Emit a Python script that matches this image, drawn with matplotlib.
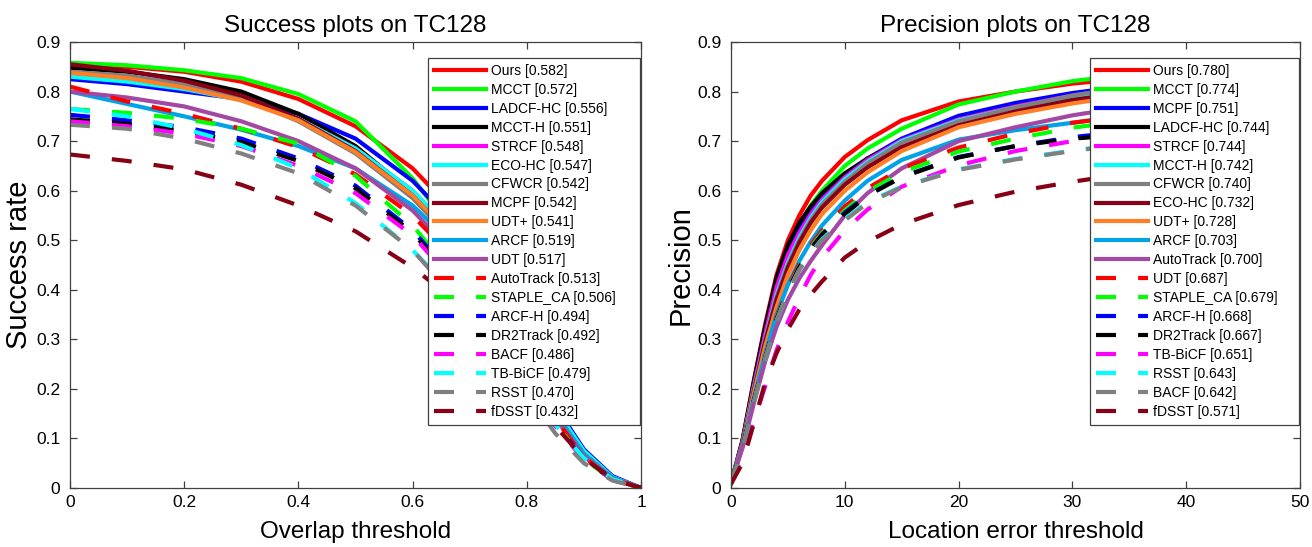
import numpy as np
from matplotlib import pyplot as plt

# ---------------- data ----------------
# success plot: overlap threshold -> success rate
overlap_thr = [0, 0.1, 0.2, 0.3, 0.4, 0.5, 0.6, 0.65, 0.7, 0.75, 0.8, 0.85, 0.9, 0.95, 1.0]

s_ours      = [0.855, 0.850, 0.840, 0.820, 0.785, 0.730, 0.645, 0.585, 0.500, 0.400, 0.280, 0.165, 0.075, 0.022, 0.0]
s_mcct      = [0.858, 0.853, 0.843, 0.827, 0.795, 0.740, 0.625, 0.550, 0.460, 0.360, 0.250, 0.150, 0.068, 0.020, 0.0]
s_ladcf_hc  = [0.825, 0.815, 0.800, 0.785, 0.755, 0.705, 0.620, 0.560, 0.480, 0.380, 0.270, 0.165, 0.078, 0.024, 0.0]
s_mcct_h    = [0.848, 0.840, 0.825, 0.800, 0.755, 0.690, 0.595, 0.530, 0.445, 0.350, 0.245, 0.145, 0.068, 0.020, 0.0]
s_strcf     = [0.835, 0.825, 0.810, 0.785, 0.745, 0.685, 0.600, 0.540, 0.460, 0.365, 0.260, 0.155, 0.070, 0.020, 0.0]
s_eco_hc    = [0.830, 0.820, 0.805, 0.783, 0.745, 0.685, 0.600, 0.540, 0.460, 0.365, 0.260, 0.160, 0.075, 0.022, 0.0]
s_cfwcr     = [0.840, 0.832, 0.815, 0.788, 0.740, 0.675, 0.585, 0.525, 0.450, 0.355, 0.250, 0.150, 0.068, 0.020, 0.0]
s_mcpf      = [0.855, 0.842, 0.822, 0.792, 0.745, 0.680, 0.590, 0.530, 0.450, 0.355, 0.250, 0.150, 0.068, 0.020, 0.0]
s_udt_plus  = [0.838, 0.827, 0.808, 0.782, 0.742, 0.678, 0.590, 0.530, 0.450, 0.355, 0.250, 0.150, 0.068, 0.020, 0.0]
s_arcf      = [0.800, 0.775, 0.750, 0.723, 0.690, 0.645, 0.570, 0.515, 0.440, 0.350, 0.250, 0.150, 0.068, 0.020, 0.0]
s_udt       = [0.800, 0.788, 0.770, 0.740, 0.700, 0.645, 0.560, 0.500, 0.425, 0.335, 0.235, 0.140, 0.064, 0.018, 0.0]
s_autotrack = [0.810, 0.780, 0.755, 0.725, 0.688, 0.633, 0.550, 0.490, 0.415, 0.330, 0.235, 0.140, 0.062, 0.018, 0.0]
s_staple_ca = [0.765, 0.757, 0.745, 0.725, 0.695, 0.630, 0.530, 0.460, 0.385, 0.300, 0.215, 0.130, 0.058, 0.017, 0.0]
s_arcf_h    = [0.753, 0.742, 0.728, 0.705, 0.665, 0.610, 0.520, 0.455, 0.380, 0.300, 0.215, 0.130, 0.060, 0.018, 0.0]
s_dr2track  = [0.744, 0.735, 0.720, 0.698, 0.660, 0.605, 0.515, 0.450, 0.375, 0.295, 0.210, 0.128, 0.058, 0.017, 0.0]
s_bacf      = [0.740, 0.730, 0.715, 0.690, 0.650, 0.595, 0.510, 0.445, 0.370, 0.290, 0.207, 0.125, 0.057, 0.016, 0.0]
s_tb_bicf   = [0.765, 0.750, 0.725, 0.692, 0.645, 0.575, 0.480, 0.420, 0.355, 0.285, 0.205, 0.128, 0.060, 0.018, 0.0]
s_rsst      = [0.733, 0.725, 0.705, 0.675, 0.635, 0.570, 0.480, 0.415, 0.345, 0.270, 0.190, 0.110, 0.050, 0.015, 0.0]
s_fdsst     = [0.673, 0.660, 0.643, 0.612, 0.570, 0.518, 0.445, 0.400, 0.350, 0.290, 0.215, 0.125, 0.060, 0.018, 0.0]

succ_labels = ['Ours [0.582]', 'MCCT [0.572]', 'LADCF-HC [0.556]', 'MCCT-H [0.551]',
               'STRCF [0.548]', 'ECO-HC [0.547]', 'CFWCR [0.542]', 'MCPF [0.542]',
               'UDT+ [0.541]', 'ARCF [0.519]', 'UDT [0.517]', 'AutoTrack [0.513]',
               'STAPLE_CA [0.506]', 'ARCF-H [0.494]', 'DR2Track [0.492]', 'BACF [0.486]',
               'TB-BiCF [0.479]', 'RSST [0.470]', 'fDSST [0.432]']

# precision plot: location error threshold -> precision
error_thr = [0, 1, 2, 3, 4, 5, 6, 7, 8, 10, 12, 15, 20, 25, 30, 35, 40, 45, 50]

p_ours      = [0.010, 0.095, 0.215, 0.330, 0.430, 0.500, 0.550, 0.590, 0.620, 0.668, 0.702, 0.742, 0.780, 0.800, 0.816, 0.827, 0.836, 0.843, 0.849]
p_mcct      = [0.010, 0.090, 0.205, 0.315, 0.410, 0.480, 0.530, 0.570, 0.600, 0.650, 0.685, 0.725, 0.774, 0.800, 0.821, 0.835, 0.845, 0.852, 0.858]
p_mcpf      = [0.010, 0.090, 0.200, 0.305, 0.400, 0.470, 0.520, 0.555, 0.585, 0.630, 0.665, 0.705, 0.751, 0.777, 0.797, 0.812, 0.822, 0.830, 0.836]
p_ladcf_hc  = [0.010, 0.095, 0.215, 0.325, 0.425, 0.490, 0.535, 0.568, 0.595, 0.635, 0.665, 0.700, 0.744, 0.770, 0.790, 0.805, 0.816, 0.824, 0.830]
p_strcf     = [0.010, 0.090, 0.205, 0.310, 0.405, 0.470, 0.515, 0.552, 0.582, 0.627, 0.662, 0.702, 0.744, 0.770, 0.792, 0.808, 0.820, 0.828, 0.833]
p_mcct_h    = [0.010, 0.088, 0.200, 0.300, 0.390, 0.455, 0.505, 0.545, 0.577, 0.623, 0.658, 0.700, 0.742, 0.768, 0.790, 0.806, 0.818, 0.827, 0.833]
p_cfwcr     = [0.010, 0.088, 0.198, 0.298, 0.385, 0.450, 0.500, 0.540, 0.572, 0.618, 0.655, 0.697, 0.740, 0.768, 0.792, 0.810, 0.823, 0.833, 0.840]
p_eco_hc    = [0.010, 0.087, 0.195, 0.295, 0.380, 0.445, 0.495, 0.535, 0.566, 0.612, 0.647, 0.688, 0.732, 0.760, 0.783, 0.799, 0.811, 0.820, 0.826]
p_udt_plus  = [0.010, 0.085, 0.190, 0.285, 0.365, 0.430, 0.480, 0.520, 0.553, 0.600, 0.637, 0.680, 0.728, 0.755, 0.776, 0.793, 0.805, 0.813, 0.819]
p_arcf      = [0.010, 0.083, 0.180, 0.270, 0.350, 0.410, 0.458, 0.497, 0.530, 0.580, 0.620, 0.662, 0.703, 0.722, 0.737, 0.752, 0.767, 0.779, 0.789]
p_autotrack = [0.010, 0.080, 0.170, 0.255, 0.325, 0.380, 0.423, 0.458, 0.490, 0.550, 0.595, 0.645, 0.700, 0.728, 0.752, 0.770, 0.783, 0.792, 0.798]
p_udt       = [0.010, 0.080, 0.175, 0.265, 0.345, 0.405, 0.453, 0.490, 0.520, 0.568, 0.605, 0.645, 0.687, 0.715, 0.737, 0.752, 0.765, 0.774, 0.780]
p_staple_ca = [0.010, 0.080, 0.175, 0.263, 0.342, 0.400, 0.447, 0.485, 0.515, 0.560, 0.598, 0.637, 0.679, 0.705, 0.727, 0.742, 0.755, 0.763, 0.769]
p_arcf_h    = [0.010, 0.080, 0.175, 0.262, 0.340, 0.398, 0.445, 0.482, 0.512, 0.556, 0.591, 0.628, 0.668, 0.690, 0.708, 0.720, 0.730, 0.736, 0.741]
p_dr2track  = [0.010, 0.080, 0.175, 0.262, 0.340, 0.398, 0.445, 0.482, 0.510, 0.553, 0.590, 0.627, 0.667, 0.690, 0.705, 0.713, 0.720, 0.725, 0.728]
p_tb_bicf   = [0.010, 0.060, 0.135, 0.205, 0.278, 0.335, 0.385, 0.430, 0.465, 0.520, 0.562, 0.608, 0.651, 0.680, 0.700, 0.716, 0.730, 0.742, 0.751]
p_rsst      = [0.010, 0.078, 0.172, 0.260, 0.337, 0.395, 0.440, 0.475, 0.502, 0.543, 0.577, 0.608, 0.643, 0.664, 0.681, 0.696, 0.708, 0.717, 0.724]
p_bacf      = [0.010, 0.078, 0.172, 0.260, 0.337, 0.395, 0.440, 0.475, 0.500, 0.540, 0.575, 0.607, 0.642, 0.663, 0.680, 0.695, 0.707, 0.716, 0.724]
p_fdsst     = [0.008, 0.050, 0.130, 0.213, 0.272, 0.320, 0.360, 0.390, 0.417, 0.465, 0.497, 0.532, 0.571, 0.598, 0.618, 0.635, 0.650, 0.664, 0.676]

prec_labels = ['Ours [0.780]', 'MCCT [0.774]', 'MCPF [0.751]', 'LADCF-HC [0.744]',
               'STRCF [0.744]', 'MCCT-H [0.742]', 'CFWCR [0.740]', 'ECO-HC [0.732]',
               'UDT+ [0.728]', 'ARCF [0.703]', 'AutoTrack [0.700]', 'UDT [0.687]',
               'STAPLE_CA [0.679]', 'ARCF-H [0.668]', 'DR2Track [0.667]', 'TB-BiCF [0.651]',
               'RSST [0.643]', 'BACF [0.642]', 'fDSST [0.571]']

succ_curves = [s_ours, s_mcct, s_ladcf_hc, s_mcct_h, s_strcf, s_eco_hc, s_cfwcr, s_mcpf,
               s_udt_plus, s_arcf, s_udt, s_autotrack, s_staple_ca, s_arcf_h, s_dr2track,
               s_bacf, s_tb_bicf, s_rsst, s_fdsst]
prec_curves = [p_ours, p_mcct, p_mcpf, p_ladcf_hc, p_strcf, p_mcct_h, p_cfwcr, p_eco_hc,
               p_udt_plus, p_arcf, p_autotrack, p_udt, p_staple_ca, p_arcf_h, p_dr2track,
               p_tb_bicf, p_rsst, p_bacf, p_fdsst]

# OTB-toolkit style colours (by rank), first 11 solid, rest dashed
SOLID_COLORS = ['#ff0000', '#00ff00', '#0000ff', '#000000', '#ff00ff', '#00ffff',
                '#808080', '#880015', '#ff7f27', '#00a2e8', '#a349a4']
DASH_COLORS = ['#ff0000', '#00ff00', '#0000ff', '#000000', '#ff00ff', '#00ffff',
               '#808080', '#880015']

plt.rcParams.update({
    'font.family': ['Liberation Sans', 'DejaVu Sans'],
    'font.size': 12,
})


def draw_panel(ax, x, curves, labels, title, xlabel, ylabel, xlim, xticks, xticklabels,
               leg_x0):
    """Draw one OTB-style ranking plot onto ax."""
    n_solid = len(SOLID_COLORS)
    for i, (y, lab) in enumerate(zip(curves, labels)):
        if i < n_solid:
            ax.plot(x, y, color=SOLID_COLORS[i], lw=3, ls='-', label=lab,
                    solid_joinstyle='round')
        else:
            ax.plot(x, y, color=DASH_COLORS[i - n_solid], lw=3,
                    ls=(0, (4.8, 5.3)), label=lab, dash_capstyle='butt')

    ax.set_xlim(*xlim)
    ax.set_ylim(0, 0.9)
    ax.set_xticks(xticks)
    ax.set_xticklabels(xticklabels)
    ax.set_yticks(np.arange(0, 0.91, 0.1))
    ax.set_yticklabels(['0'] + [f'{v:.1f}' for v in np.arange(0.1, 0.91, 0.1)])

    # MATLAB look: box on, ticks inward on every side
    for sp in ax.spines.values():
        sp.set_color('#404040')
        sp.set_linewidth(0.9)
    ax.tick_params(direction='in', top=True, right=True, length=5, width=0.9,
                   color='#404040', labelsize=12.5)
    ax.tick_params(axis='y', pad=7)
    ax.tick_params(axis='x', pad=5)

    ax.set_title(title, fontsize=17.5, pad=7)
    ax.set_xlabel(xlabel, fontsize=17.5, labelpad=8)
    ax.set_ylabel(ylabel, fontsize=21, labelpad=2)

    # legend box stretched to the MATLAB width, text left aligned
    leg = ax.legend(loc='upper left', bbox_to_anchor=(leg_x0, 0.15, 0.999 - leg_x0, 0.815),
                    mode='expand', borderaxespad=0,
                    fontsize=10, handlelength=3.7, handletextpad=0.35,
                    labelspacing=0.355, borderpad=0.45, fancybox=False,
                    framealpha=1, edgecolor='#404040')
    leg.get_frame().set_linewidth(0.9)


fig = plt.figure(figsize=(13.12, 5.47), dpi=100)
ax_s = fig.add_axes([70 / 1312, 59 / 547, 571 / 1312, 446 / 547])
ax_p = fig.add_axes([731 / 1312, 59 / 547, 569 / 1312, 446 / 547])

draw_panel(ax_s, overlap_thr, succ_curves, succ_labels, 'Success plots on TC128',
           'Overlap threshold', 'Success rate', (0, 1),
           [0, 0.2, 0.4, 0.6, 0.8, 1.0], ['0', '0.2', '0.4', '0.6', '0.8', '1'], 0.627)
draw_panel(ax_p, error_thr, prec_curves, prec_labels, 'Precision plots on TC128',
           'Location error threshold', 'Precision', (0, 50),
           [0, 10, 20, 30, 40, 50], ['0', '10', '20', '30', '40', '50'], 0.631)

fig.savefig('out.png', dpi=100)
plt.close(fig)
